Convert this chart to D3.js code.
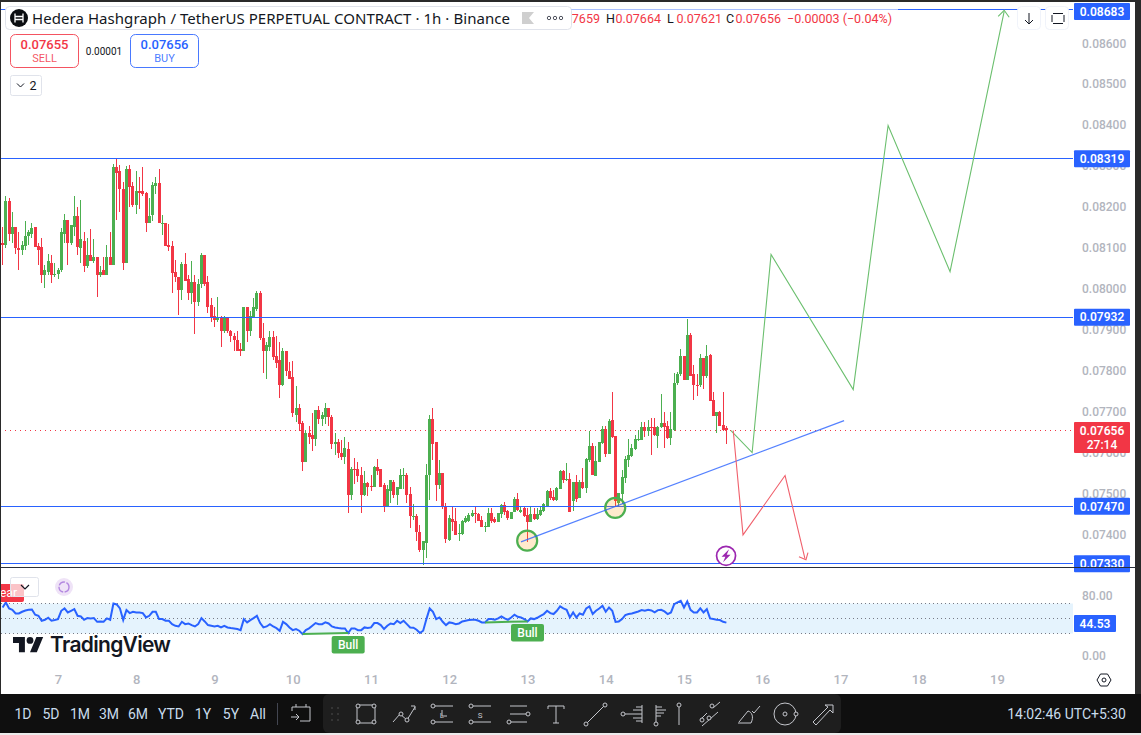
<!DOCTYPE html>
<html>
<head>
<meta charset="utf-8">
<title>HBARUSDT.P 1h</title>
<script src="https://cdn.jsdelivr.net/npm/d3@7"></script>
<style>
  body { margin: 0; background: #fff; overflow: hidden; }
  text { font-family: Roboto, sans-serif; }
</style>
</head>
<body>
<div id="container"></div>
<script>
// prices are in units of 0.00001 USDT, hours are counted from the start of day 7
const firstHour = -17;

const opens = [
  8113,8108,8214,8135,8150,8099,8096,8104,8128,8135,8150,8104,8101,8033,8042,8064,8035,
  8037,8045,8135,8167,8111,8152,8179,8099,8118,8055,8082,8069,8077,8033,8045,8033,8079,8059,8297,8287,8245,8064,8292,8250,8206,8240,8238,8233,8162,
  8180,8250,8258,8160,8162,8106,8104,8040,8030,7996,8060,8023,7991,8016,7969,8011,8082,8016,7960,7933,7923,7928,7896,7928,7898,7886,7876,7852,7847,7955,7896,7930,7952,7989,
  7881,7847,7859,7883,7837,7825,7766,7849,7800,
  7784,7693,7710,7673,7578,7647,7642,7634,7705,7683,7688,7708,7688,7622,7625,7598,7590,7610,7497,7561,7559,7546,7497,7527,7519,7517,7566,7559,7522,7468,7507,7529,7497,7512,7544,7546,7500,7444,7446,7407,7361,7380,7546,7681,7625,7522,
  7551,7470,7387,7438,7434,7402,7402,7431,7434,7446,7453,7451,7436,7419,7419,7453,7438,7431,7451,7473,7458,7438,7456,7487,7456,7465,7448,7431,7451,7438,7448,7458,7470,7507,7492,7485,7512,7556,7534,7536,
  7482,7529,7490,7529,7514,7583,7617,7544,7578,7624,7658,7597,7680,7641,7478,7500,7539,7583,7592,7610,7632,7632,7663,7654,7663,7663,7641,7663,7673,7666,7636,7656,7769,7791,7835,7778,7888,7791,7766,7764,7832,7786,7839,7729,7690,7698,7668,7659
];
const highs = [
  8152,8228,8221,8187,8152,8140,8118,8165,8143,8160,8150,8111,8125,8059,8086,8082,8064,
  8050,8148,8184,8167,8157,8226,8201,8216,8138,8125,8145,8121,8077,8055,8077,8106,8138,8304,8319,8302,8260,8299,8302,8262,8287,8272,8297,8236,8221,
  8260,8272,8292,8180,8162,8158,8116,8070,8030,8065,8087,8035,8067,8033,8023,8087,8082,8032,7977,7955,7981,7933,7933,7930,7900,7893,7898,7867,7955,7955,7945,7977,7994,7994,
  7917,7871,7898,7898,7886,7871,7856,7849,7822,
  7823,7762,7718,7678,7656,7664,7696,7705,7713,7700,7720,7710,7691,7649,7634,7630,7637,7625,7566,7588,7578,7566,7556,7529,7546,7568,7585,7559,7527,7522,7534,7534,7517,7561,7563,7549,7515,7475,7449,7422,7385,7571,7691,7708,7625,7583,
  7551,7478,7448,7468,7465,7426,7436,7446,7453,7460,7466,7453,7446,7431,7465,7465,7443,7453,7475,7480,7460,7456,7492,7502,7468,7468,7465,7468,7465,7465,7468,7478,7509,7514,7509,7517,7558,7558,7575,7551,
  7529,7546,7534,7563,7588,7654,7624,7617,7627,7666,7666,7683,7747,7641,7502,7558,7592,7634,7622,7644,7656,7676,7676,7680,7685,7685,7666,7744,7698,7678,7698,7795,7798,7854,7835,7927,7891,7815,7791,7842,7832,7864,7842,7749,7700,7702,7749,7664
];
const lows = [
  8059,8099,8116,8111,8086,8045,8082,8096,8108,8123,8101,8059,8015,8001,8033,8015,8030,
  8025,8042,8111,8059,8106,8130,8082,8064,8042,8050,8069,8064,7979,8030,8033,8033,8059,8059,8167,8187,8045,8064,8199,8199,8182,8196,8226,8138,8160,
  8165,8231,8160,8131,8104,8092,7989,8016,7935,7972,8018,7972,7964,7889,7957,8001,8006,7942,7920,7906,7920,7859,7893,7893,7869,7849,7847,7835,7847,7869,7886,7930,7947,7876,
  7795,7780,7847,7827,7807,7734,7763,7788,7780,
  7688,7676,7654,7556,7578,7620,7605,7617,7671,7664,7669,7666,7610,7595,7588,7581,7573,7453,7485,7524,7529,7453,7495,7495,7507,7517,7546,7515,7456,7468,7478,7488,7471,7510,7512,7478,7417,7436,7385,7358,7326,7343,7485,7583,7483,7512,
  7463,7380,7385,7409,7399,7385,7399,7429,7431,7443,7429,7434,7419,7407,7419,7429,7429,7431,7441,7448,7436,7438,7456,7458,7453,7443,7382,7431,7436,7436,7446,7456,7468,7485,7483,7483,7512,7527,7531,7456,
  7458,7480,7490,7512,7502,7578,7546,7544,7578,7622,7590,7597,7636,7470,7468,7475,7526,7566,7590,7607,7629,7632,7639,7641,7595,7641,7612,7661,7612,7634,7619,7654,7766,7788,7778,7778,7786,7729,7739,7761,7756,7783,7725,7690,7649,7666,7654,7621
];
const closes = [
  8108,8214,8135,8152,8099,8096,8106,8130,8138,8148,8101,8096,8033,8045,8067,8035,8037,
  8047,8138,8167,8111,8155,8179,8101,8121,8055,8082,8069,8077,8033,8042,8033,8077,8059,8297,8284,8243,8062,8292,8248,8206,8240,8233,8231,8162,8179,
  8253,8258,8160,8162,8104,8101,8038,8028,7996,8060,8018,7991,8016,7969,8013,8082,8013,7955,7930,7923,7930,7896,7928,7896,7884,7874,7849,7849,7955,7896,7933,7955,7989,7879,
  7847,7864,7883,7834,7820,7766,7849,7800,7780,
  7696,7710,7671,7578,7649,7639,7634,7705,7683,7691,7708,7686,7622,7625,7598,7590,7612,7497,7561,7559,7544,7497,7527,7517,7517,7566,7554,7517,7468,7510,7532,7497,7515,7546,7546,7497,7444,7446,7407,7361,7383,7546,7681,7620,7522,7549,
  7468,7390,7441,7431,7399,7404,7434,7441,7448,7453,7451,7434,7419,7421,7453,7434,7431,7453,7473,7456,7441,7456,7487,7460,7460,7446,7431,7451,7438,7451,7460,7475,7507,7490,7485,7514,7556,7534,7536,7456,
  7529,7487,7529,7514,7585,7617,7546,7580,7627,7658,7597,7678,7639,7482,7502,7541,7585,7595,7612,7634,7634,7663,7654,7663,7661,7644,7663,7673,7663,7636,7658,7769,7793,7835,7778,7888,7786,7764,7764,7832,7786,7837,7727,7690,7698,7666,7656,7656
];
const rsiValues = [
  64.7,71.4,63.4,61.6,56.7,56.7,59,60.7,61.6,62,55,53.6,47,48.3,51,47,47.9,
  49.2,60.3,63.4,58.1,60.3,62.5,53.6,52.8,48.3,50.5,50.1,50.5,45.6,46.1,45.6,50.1,48.3,70,68.7,63.4,47.9,61.2,57.2,59,58.1,58.1,57.2,51.4,53.6,
  59,59,49.2,49.2,47,47,42.5,40.3,39.4,45.6,42.5,43.4,41.2,39.4,42.5,50.5,46.1,41.2,40.3,39.4,40.3,38.1,40.3,38.1,37.2,36.8,35.9,34.5,49.2,44.8,47.9,50.5,53.6,43.9,
  38.1,39.4,42.5,39.4,37.2,33.7,45.6,42.5,38.1,
  34.5,35.9,33.7,29.2,34.5,36.8,40.3,43.9,42.5,42.5,44.8,43.4,39.4,38.1,37.2,36.8,36.8,30.6,36.8,36.8,34.5,34.5,38.1,37.2,38.1,43.9,43.9,41.2,35.9,40.3,43.4,42.5,47,43.9,47,42.5,38.1,37.7,35,30.6,33.7,49.2,63.4,59,49.2,51.4,
  45.6,41.2,44.8,43.9,42.5,43.4,46.1,47,47.9,48.3,48.3,47,44.8,44.8,49.2,49.2,48.3,50.1,52.8,50.1,48.3,51.4,55,52.3,51.4,49.2,46.1,50.1,49.2,51,53.6,55.9,60.3,57.2,55.9,60.3,66.1,63.4,61.6,51.4,
  58.1,51.4,56.7,55,63.4,66.1,55.9,60.3,63.4,67,59,64.7,60.3,45.6,46.1,49.2,54.5,55.9,56.7,58.1,59.4,61.2,60.3,61.6,60.7,58.1,61.2,61.6,59.4,55.9,58.1,69.2,71.4,73.6,64.7,72.7,61.6,58.1,58.1,63.4,58.1,62.5,50.1,49.2,48.3,47.9,45.6,44.53
];

const priceTicks = [8600, 8500, 8400, 8300, 8200, 8100, 8000, 7900, 7800, 7700, 7600, 7500, 7400];
const levels = [8683, 8319, 7932, 7470, 7330];
const lastPrice = 7656;
const dayTicks = [7, 8, 9, 10, 11, 12, 13, 14, 15, 16, 17, 18, 19];
const rsiTicks = [80, 0];

// hand drawn projections: hour, price
const greenHours = [206.4, 212.9, 218.7, 243.9, 254.6, 273.6, 290.2];
const greenPrices = [7654, 7600, 8084, 7754, 8399, 8042, 8678];
const redHours = [207.1, 210.1, 223, 229.1];
const redPrices = [7654, 7399, 7544, 7341];
const trendHours = [142, 241.1];
const trendPrices = [7382, 7678];
const circleHours = [143.9, 170.9];
const circlePrices = [7385, 7465];

const candles = opens.map((o, i) => ({
  hour: firstHour + i, open: o, high: highs[i], low: lows[i], close: closes[i], rsi: rsiValues[i]
}));

const width = 1141, height = 735;
const blue = "#2962ff", green = "#4caf50", red = "#f23645", grey = "#b2b5be";

const x = d3.scaleLinear().domain([0, 288]).range([58, 997]);
const y = d3.scaleLinear().domain([8600, 7400]).range([43.2, 534.5]);
const yRsi = d3.scaleLinear().domain([0, 80]).range([656, 596]);
const fmt = v => (v / 1e5).toFixed(5);

const svg = d3.select("#container").append("svg").attr("width", width).attr("height", height);
svg.append("rect").attr("width", width).attr("height", height).attr("fill", "#fff");

svg.append("clipPath").attr("id", "mainClip").append("rect")
  .attr("x", 1).attr("y", 2).attr("width", 1072).attr("height", 565);
const main = svg.append("g").attr("clip-path", "url(#mainClip)");

// last price dotted line
main.append("line").attr("x1", 0).attr("x2", 1073)
  .attr("y1", Math.round(y(lastPrice)) + .5).attr("y2", Math.round(y(lastPrice)) + .5)
  .attr("stroke", red).attr("stroke-dasharray", "1 4");

// Candles
const candle = main.append("g").selectAll("g").data(candles).enter().append("g")
  .attr("fill", d => d.close >= d.open ? green : red)
  .attr("shape-rendering", "crispEdges");
candle.append("rect")
  .attr("x", d => x(d.hour) - .5).attr("width", 1)
  .attr("y", d => y(d.high)).attr("height", d => y(d.low) - y(d.high));
candle.append("rect")
  .attr("x", d => x(d.hour) - 1.5).attr("width", 3)
  .attr("y", d => y(Math.max(d.open, d.close)))
  .attr("height", d => Math.max(1, Math.abs(y(d.open) - y(d.close))));

// Horizontal levels
main.append("g").selectAll("line").data(levels).enter().append("line")
  .attr("x1", 0).attr("x2", 1073)
  .attr("y1", d => Math.round(y(d)) + .5).attr("y2", d => Math.round(y(d)) + .5)
  .attr("stroke", blue).attr("stroke-width", 1);

// Circles on the trend line
main.append("g").selectAll("circle").data(circleHours).enter().append("circle")
  .attr("cx", d => x(d)).attr("cy", (d, i) => y(circlePrices[i])).attr("r", 10)
  .attr("fill", "rgba(255,152,0,.2)").attr("stroke", green).attr("stroke-width", 2.2);

// Trend line
main.append("line")
  .attr("x1", x(trendHours[0])).attr("y1", y(trendPrices[0]))
  .attr("x2", x(trendHours[1])).attr("y2", y(trendPrices[1]))
  .attr("stroke", blue).attr("stroke-opacity", .8).attr("stroke-width", 1.2);

// Projections
const projection = d3.line().x(d => x(d[0])).y(d => y(d[1]));
main.append("path").datum(greenHours.map((h, i) => [h, greenPrices[i]]))
  .attr("d", projection).attr("fill", "none").attr("stroke", "#6bbf6e").attr("stroke-width", 1.1);
main.append("path").datum(redHours.map((h, i) => [h, redPrices[i]]))
  .attr("d", projection).attr("fill", "none").attr("stroke", "#f0606c").attr("stroke-width", 1.1);
// arrow heads
const gEnd = [x(greenHours[6]), y(greenPrices[6])];
main.append("path").attr("d", `M${gEnd[0] - 6},${gEnd[1] + 5}L${gEnd[0]},${gEnd[1] - 1}L${gEnd[0] + 5},${gEnd[1] + 6}`)
  .attr("fill", "none").attr("stroke", "#6bbf6e").attr("stroke-width", 1.1);
const rEnd = [x(redHours[3]), y(redPrices[3])];
main.append("path").attr("d", `M${rEnd[0] - 6},${rEnd[1] - 2}L${rEnd[0] + 1},${rEnd[1] + 1}L${rEnd[0] + 3},${rEnd[1] - 6}`)
  .attr("fill", "none").attr("stroke", "#f0606c").attr("stroke-width", 1.1);

// Bolt marker
const bolt = main.append("g").attr("transform", `translate(${x(204.9)},${y(7348)})`);
bolt.append("circle").attr("r", 9.5).attr("fill", "#fff").attr("stroke", "#9c27b0").attr("stroke-width", 1.7);
bolt.append("path").attr("d", "M3,-6.5L-4.5,1H-.7L-3,6.5L4.5,-1H.7Z").attr("fill", "#9c27b0");

// Price axis
const yAxis = svg.append("g").attr("transform", "translate(1082,0)")
  .call(d3.axisRight(y).tickValues(priceTicks).tickSize(0).tickPadding(0).tickFormat(fmt));
yAxis.select(".domain").remove();
yAxis.selectAll("text").attr("fill", grey).attr("font-size", 12).attr("font-weight", 500);

// Price labels
levels.forEach(v => {
  const cy = Math.max(11.5, y(v) + .5);
  svg.append("rect").attr("x", 1074).attr("y", cy - 8.5).attr("width", 56).attr("height", 17)
    .attr("rx", 1).attr("fill", blue);
  svg.append("text").attr("x", 1102).attr("y", cy + 4.2).attr("text-anchor", "middle")
    .attr("fill", "#fff").attr("font-size", 12).attr("font-weight", 600).text(fmt(v));
});
svg.append("rect").attr("x", 1074).attr("y", 422).attr("width", 56).attr("height", 31).attr("rx", 1).attr("fill", red);
svg.append("text").attr("x", 1102).attr("y", 435).attr("text-anchor", "middle")
  .attr("fill", "#fff").attr("font-size", 12).attr("font-weight", 600).text(fmt(lastPrice));
svg.append("text").attr("x", 1102).attr("y", 449).attr("text-anchor", "middle")
  .attr("fill", "#fff").attr("font-size", 12).attr("font-weight", 500).text("27:14");

// Pane separator
svg.append("rect").attr("x", 0).attr("y", 567).attr("width", 1135).attr("height", 1).attr("fill", "#2a2e39");

// RSI pane
const rsiBand = [70, 50, 30];
svg.append("rect").attr("x", 1).attr("width", 1072)
  .attr("y", yRsi(70)).attr("height", yRsi(30) - yRsi(70)).attr("fill", "#e5f3fd");
svg.append("g").selectAll("line").data(rsiBand).enter().append("line")
  .attr("x1", 1).attr("x2", 1073).attr("y1", d => yRsi(d)).attr("y2", d => yRsi(d))
  .attr("stroke", "#787b86").attr("stroke-dasharray", "1 3");

const rsiLine = d3.line().x(d => x(d.hour)).y(d => yRsi(d.rsi));
svg.append("clipPath").attr("id", "rsiClip").append("rect")
  .attr("x", 1).attr("y", 568).attr("width", 1072).attr("height", 120);
svg.append("path").datum(candles).attr("clip-path", "url(#rsiClip)")
  .attr("d", rsiLine).attr("fill", "none").attr("stroke", blue).attr("stroke-width", 2);

// Divergences
const bullLabels = [[75, 89, 29.2, 30.6, 636], [131, 144, 44.8, 46.1, 624]];
bullLabels.forEach(([h0, h1, r0, r1, top]) => {
  svg.append("line").attr("x1", x(h0)).attr("x2", x(h1)).attr("y1", yRsi(r0)).attr("y2", yRsi(r1))
    .attr("stroke", green).attr("stroke-width", 2);
  svg.append("rect").attr("x", x(h1) - 16.5).attr("y", top).attr("width", 33).attr("height", 17.5)
    .attr("rx", 2).attr("fill", green);
  svg.append("text").attr("x", x(h1)).attr("y", top + 13).attr("text-anchor", "middle")
    .attr("fill", "#fff").attr("font-size", 12).attr("font-weight", 500).text("Bull");
});
svg.append("rect").attr("x", -4).attr("y", 584).attr("width", 28).attr("height", 18).attr("rx", 2).attr("fill", red);
svg.append("text").attr("x", 0).attr("y", 597).attr("fill", "#fff").attr("font-size", 12).text("ear");

// RSI axis
const rsiAxis = svg.append("g").attr("transform", "translate(1082,0)")
  .call(d3.axisRight(yRsi).tickValues(rsiTicks).tickSize(0).tickPadding(0).tickFormat(d => d.toFixed(2)));
rsiAxis.select(".domain").remove();
rsiAxis.selectAll("text").attr("fill", grey).attr("font-size", 12).attr("font-weight", 500);
svg.append("rect").attr("x", 1074).attr("y", 615).attr("width", 42).attr("height", 17).attr("rx", 1).attr("fill", blue);
svg.append("text").attr("x", 1095).attr("y", 628).attr("text-anchor", "middle")
  .attr("fill", "#fff").attr("font-size", 12).attr("font-weight", 600).text(rsiValues[rsiValues.length - 1].toFixed(2));

// Pane controls
svg.append("rect").attr("x", 10.5).attr("y", 577.5).attr("width", 28).attr("height", 19).attr("rx", 2)
  .attr("fill", "rgba(255,255,255,.7)").attr("stroke", "#e0e3eb");
svg.append("path").attr("d", "M21,585l4,4l4,-4").attr("fill", "none").attr("stroke", "#131722").attr("stroke-width", 1.2);
svg.append("circle").attr("cx", 64).attr("cy", 587).attr("r", 9).attr("fill", "#efe3f7");
svg.append("circle").attr("cx", 64).attr("cy", 587).attr("r", 5).attr("fill", "none").attr("stroke", "#b388e0").attr("stroke-width", 1.4).attr("stroke-dasharray", "7 1.5");

// Time axis
const xAxis = svg.append("g").attr("transform", "translate(0,684)")
  .call(d3.axisBottom(x).tickValues(dayTicks.map(d => (d - 7) * 24)).tickSize(0).tickPadding(0)
    .tickFormat((d, i) => dayTicks[i]));
xAxis.select(".domain").remove();
xAxis.selectAll("text").attr("fill", grey).attr("font-size", 13).attr("font-weight", 500).attr("dy", "0");
svg.append("path").attr("d", "M1097,680l3.5,-6h7l3.5,6l-3.5,6h-7Z").attr("fill", "none").attr("stroke", "#131722").attr("stroke-width", 1);
svg.append("circle").attr("cx", 1104).attr("cy", 680).attr("r", 2).attr("fill", "none").attr("stroke", "#131722");

// TradingView logo
const logo = svg.append("g").attr("transform", "translate(13,633.6) scale(.85)").attr("fill", "#131722");
logo.append("path").attr("d", "M14 22H7V11H0V4h14v18zM28 22h-8l7.5-18h8L28 22z");
logo.append("circle").attr("cx", 20).attr("cy", 8).attr("r", 4);
svg.append("text").attr("x", 50).attr("y", 652).attr("fill", "#131722").attr("font-size", 21)
  .attr("font-weight", 600).attr("style", "font-family:Inter,sans-serif").attr("textLength", 121).text("TradingView");

// Legend strip and title pill
svg.append("rect").attr("x", 572).attr("y", 3).attr("width", 326).attr("height", 23).attr("fill", "rgba(255,255,255,.6)");
const legendKeys = ["O", "H", "L", "C"];
const legendKeyX = [545, 606, 667, 726];
const legendValues = ["0.07659", "0.07664", "0.07621", "0.07656"];
legendKeys.forEach((k, i) => {
  svg.append("text").attr("x", legendKeyX[i]).attr("y", 23).attr("fill", "#131722").attr("font-size", 12.5).text(k);
  svg.append("text").attr("x", legendKeyX[i] + 9.5).attr("y", 23).attr("fill", red).attr("font-size", 12.5).text(legendValues[i]);
});
svg.append("text").attr("x", 787).attr("y", 23).attr("fill", red).attr("font-size", 12.5).text("−0.00003 (−0.04%)");
svg.append("rect").attr("x", 5.5).attr("y", 6.5).attr("width", 566).attr("height", 23).attr("rx", 4)
  .attr("fill", "#fff").attr("stroke", "#e0e3eb");
svg.append("circle").attr("cx", 19).attr("cy", 18).attr("r", 9).attr("fill", "#0b0e11");
svg.append("path").attr("d", "M15,13.5V22.5M23,13.5V22.5M15,16.5H23M15,19.5H23").attr("stroke", "#fff").attr("stroke-width", 1.3);
svg.append("text").attr("x", 32).attr("y", 23.5).attr("fill", "#131722").attr("font-size", 15)
  .attr("style", "font-family:'Noto Sans',sans-serif").attr("textLength", 478)
  .text("Hedera Hashgraph / TetherUS PERPETUAL CONTRACT · 1h · Binance");
svg.append("path").attr("d", "M522,12h12l-5,6l5,6h-12Z").attr("fill", "#cfcfcf");
[549, 555, 561].forEach(cx => svg.append("circle").attr("cx", cx).attr("cy", 18).attr("r", 1.7).attr("fill", "none").attr("stroke", "#50535e"));

// Sell and buy boxes
[[10.5, red, "0.07655", "SELL"], [130.5, blue, "0.07656", "BUY"]].forEach(([bx, c, price, label]) => {
  svg.append("rect").attr("x", bx).attr("y", 34.5).attr("width", 68).attr("height", 33).attr("rx", 5)
    .attr("fill", "#fff").attr("stroke", c).attr("stroke-opacity", .85);
  svg.append("text").attr("x", bx + 34).attr("y", 48.5).attr("text-anchor", "middle")
    .attr("fill", c).attr("font-size", 13).attr("font-weight", 500).text(price);
  svg.append("text").attr("x", bx + 34).attr("y", 62).attr("text-anchor", "middle")
    .attr("fill", c).attr("fill-opacity", .85).attr("font-size", 11).text(label);
});
svg.append("text").attr("x", 104).attr("y", 54.5).attr("text-anchor", "middle")
  .attr("fill", "#131722").attr("font-size", 10).text("0.00001");
svg.append("rect").attr("x", 10.5).attr("y", 75.5).attr("width", 31).attr("height", 20).attr("rx", 2)
  .attr("fill", "#fff").attr("stroke", "#e0e3eb");
svg.append("path").attr("d", "M17,83.5l3.5,3.5l3.5,-3.5").attr("fill", "none").attr("stroke", "#131722");
svg.append("text").attr("x", 33).attr("y", 90).attr("text-anchor", "middle").attr("fill", "#131722").attr("font-size", 12.5).text("2");

// Top right buttons
[1017.5, 1045.5].forEach(bx => svg.append("rect").attr("x", bx).attr("y", 6.5).attr("width", 23).attr("height", 23)
  .attr("rx", 4).attr("fill", "#fff").attr("stroke", "#f0f3fa"));
svg.append("path").attr("d", "M1029,13V24M1025,20l4,4l4,-4").attr("fill", "none").attr("stroke", "#131722");
svg.append("path").attr("d", "M1053,13.5h10M1053,23.5h10M1052,15v7M1064,15v7").attr("fill", "none").attr("stroke", "#131722");

// Window chrome
svg.append("rect").attr("width", width).attr("height", 2).attr("fill", "#2a2a2a");
svg.append("rect").attr("width", 1).attr("height", height).attr("fill", "#2a2a2a");
svg.append("rect").attr("x", 1135).attr("width", 6).attr("height", height).attr("fill", "#2a2a2a");

// Bottom toolbar
svg.append("rect").attr("y", 694).attr("width", width).attr("height", 39).attr("fill", "#0f0f0f");
svg.append("rect").attr("y", 733).attr("width", width).attr("height", 2).attr("fill", "#ebebeb");
const ranges = ["1D", "5D", "1M", "3M", "6M", "YTD", "1Y", "5Y", "All"];
const rangeX = [23, 51, 80, 109, 138, 171, 203, 231, 258];
ranges.forEach((r, i) => svg.append("text").attr("x", rangeX[i]).attr("y", 719).attr("text-anchor", "middle")
  .attr("fill", "#c9dcec").attr("font-size", 14).text(r));
svg.append("rect").attr("x", 277).attr("y", 703).attr("width", 1).attr("height", 22).attr("fill", "#434651");
svg.append("rect").attr("x", 323).attr("y", 694).attr("width", 518).attr("height", 39).attr("rx", 6).attr("fill", "#1e1e1e");
svg.append("text").attr("x", 1126).attr("y", 719).attr("text-anchor", "end")
  .attr("fill", "#c9dcec").attr("font-size", 14).text("14:02:46 UTC+5:30");

// Toolbar icons, paths relative to the icon centre
const iconPaths = [
  [301, "M-9,-3V-7H9V7H-1M-5,-10V-7M5,-10V-7M-10,3H-2M-5,0L-2,3L-5,6"],
  [366, "M-8,-9H8M-8,9H8M-9,-8V8M9,-8V8"],
  [404, "M-11,8L-4,0L3,6L11,-7M7,-8H11V-4"],
  [442, "M-7,-8H11M-7,8H11M0,-4V2H5"],
  [480, "M-7,-8H11M-7,8H11"],
  [518, "M-8,-8H9M-8,0H9M-8,8H9"],
  [556, "M-8,-8H8M0,-8V9M-8,-8V-5M8,-8V-5M-3,9H3"],
  [595, "M-8,9L9,-8"],
  [632, "M-7,0H10M10,-9V9M1,-4H10M4,-7H10M1,4H10M4,7H10"],
  [661, "M-5,-9V9M-5,-7H1M-5,-4H5M-5,-1H3M-5,2H0"],
  [679, "M0,-7V11"],
  [710, "M-10,6L-3,-1M3,-6L10,-12M-8,12L8,-2"],
  [748, "M-10,9H3C6,3 4,-2 0,-3L-9,8M4,-3L6,-1L12,-8"],
  [785, "M-11,0A11,11 0 1 1 11,0A11,11 0 1 1 -11,0"],
  [822, "M-9,8L6,-7L3,-9H11V-1L8,-4L-6,11Z"]
];
iconPaths.forEach(([cx, d]) => svg.append("path").attr("transform", `translate(${cx},714)`).attr("d", d)
  .attr("fill", "none").attr("stroke", "#c4c6cc").attr("stroke-width", 1));
const iconDots = [[366,-8,-8],[366,8,-8],[366,-8,8],[366,8,8],[404,-3,0],[404,3,6],[442,-9,-8],[442,-9,8],[480,-9,-8],[480,-9,8],[518,10,0],[518,-9,8],
  [595,-9,10],[595,10,-9],[632,-9,0],[661,-5,10],[679,0,-9],[710,-8,6],[710,2,-8],[710,-1,4],[785,0,0],[785,11,0]];
iconDots.forEach(([cx, dx, dy]) => svg.append("circle").attr("cx", cx + dx).attr("cy", 714 + dy).attr("r", 2)
  .attr("fill", "#1e1e1e").attr("stroke", "#c4c6cc"));
svg.append("text").attr("x", 442).attr("y", 718).attr("text-anchor", "middle").attr("fill", "#c4c6cc").attr("font-size", 8).text("L");
svg.append("text").attr("x", 480).attr("y", 718).attr("text-anchor", "middle").attr("fill", "#c4c6cc").attr("font-size", 8).text("S");
[[-3,-4],[3,-4],[-3,2],[3,2],[-3,8],[3,8]].forEach(([dx, dy]) => svg.append("circle").attr("cx", 335 + dx).attr("cy", 712 + dy).attr("r", .8).attr("fill", "#555"));
</script>
</body>
</html>
